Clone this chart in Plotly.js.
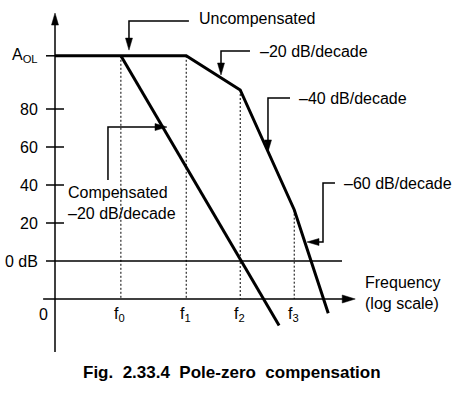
<!DOCTYPE html>
<html>
<head>
<meta charset="utf-8">
<script src="https://cdn.plot.ly/plotly-3.0.1.min.js"></script>
<style>html,body{margin:0;padding:0;background:#fff}#chart{width:471px;height:395px}</style>
</head>
<body>
<div id="chart"></div>
<script>
// ---- data (x: log-frequency units, y: dB) ----
var freqLabels = ['f<sub>0</sub>', 'f<sub>1</sub>', 'f<sub>2</sub>', 'f<sub>3</sub>'];
var freqPos = [1.22, 2.43, 3.43, 4.43];
var dbTicks = [0, 20, 40, 60, 80, 108];
var dbTickLabels = ['0 dB', '20', '40', '60', '80', 'A<sub>OL</sub>'];
var aol = 108;
var uncompX = [0, 2.43, 3.43, 4.43, 5.06];
var uncompY = [108, 108, 90, 27, -27.5];
var compX = [1.22, 4.15];
var compY = [108, -34];
var dashTopY = [108, 108, 90, 27];   // where each dashed marker meets the curve
var freqAxisY = -20;                   // level of the frequency axis line

var FONT = 'Liberation Sans, Arial, sans-serif';
var traces = [];

// dashed verticals at f0..f3
freqPos.forEach(function (fx, i) {
  traces.push({x: [fx, fx], y: [dashTopY[i], freqAxisY], mode: 'lines', hoverinfo: 'skip',
    line: {color: '#000', width: 1, dash: '2px,2px'}});
});
// 0 dB line
traces.push({x: [-0.167, 5.315], y: [0, 0], mode: 'lines', hoverinfo: 'skip', line: {color: '#000', width: 1.5}});
// tick marks
dbTicks.forEach(function (v) {
  if (v === 0) return;
  traces.push({x: [-0.167, 0.167], y: [v, v], mode: 'lines', hoverinfo: 'skip', line: {color: '#000', width: 1.5}});
});
// axes
traces.push({x: [0, 0], y: [-47.9, 126], mode: 'lines', hoverinfo: 'skip', line: {color: '#000', width: 1.5}});
traces.push({x: [-0.22, 5.4], y: [freqAxisY, freqAxisY], mode: 'lines', hoverinfo: 'skip', line: {color: '#000', width: 1.5}});
// curves
traces.push({x: uncompX, y: uncompY, mode: 'lines', name: 'Uncompensated', line: {color: '#000', width: 3}});
traces.push({x: compX, y: compY, mode: 'lines', name: 'Compensated', line: {color: '#000', width: 3}});

var ann = [];
function txt(x, y, t, xa, extra) {
  var a = {x: x, y: y, xref: 'x', yref: 'y', text: t, showarrow: false, xanchor: xa || 'left', yanchor: 'middle',
    font: {family: FONT, size: 16, color: '#000'}, align: 'left'};
  if (extra) for (var k in extra) a[k] = extra[k];
  ann.push(a);
}
dbTicks.forEach(function (v, i) { txt(-0.28, v, dbTickLabels[i], 'right'); });
txt(-0.222, -28.4, '0', 'center');
freqPos.forEach(function (fx, i) { txt(fx - 0.02, -27.9, freqLabels[i], 'center'); });
txt(5.70, -17.1, 'Frequency<br>(log scale)', 'left');
txt(2.63, 127.6, 'Uncompensated', 'left');
txt(3.76, 110.2, '\u201320 dB/decade', 'left');
txt(4.48, 85.5, '\u201340 dB/decade', 'left');
txt(5.315, 40.8, '\u201360 dB/decade', 'left');
txt(0.204, 30.5, 'Compensated<br>\u201320 dB/decade', 'left');
ann.push({xref: 'paper', yref: 'paper', x: 0.4926, y: 0.058, xanchor: 'center', yanchor: 'middle', showarrow: false,
  text: '<b>Fig.\u00a0 2.33.4\u00a0 Pole-zero\u00a0 compensation</b>', font: {family: FONT, size: 17, color: '#000'}});

var shapes = [];
function poly(pts) {
  var d = pts.map(function (p, i) { return (i ? 'L' : 'M') + p[0] + ',' + p[1]; }).join(' ');
  shapes.push({type: 'path', xref: 'x', yref: 'y', path: d, line: {color: '#000', width: 1.5}});
}
function head(x, y, dir) {
  var p = {up: 'M0,0 L-3.5,-12 L3.5,-12 Z', down: 'M0,0 L-3.5,12 L3.5,12 Z',
    left: 'M0,0 L12,-3.5 L12,3.5 Z', right: 'M0,0 L-12,-3.5 L-12,3.5 Z', rightBig: 'M0,0 L-13,-4 L-13,4 Z'}[dir];
  shapes.push({type: 'path', xref: 'x', yref: 'y', xsizemode: 'pixel', ysizemode: 'pixel', xanchor: x, yanchor: y,
    path: p, fillcolor: '#000', line: {color: '#000', width: 0.5}});
}
// callouts
poly([[2.48, 126.3], [1.37, 126.3], [1.37, 113]]); head(1.37, 111, 'down');
poly([[3.611, 110.5], [3.074, 110.5], [3.074, 100]]); head(3.074, 97.9, 'down');
poly([[4.352, 85.8], [3.944, 85.8], [3.944, 59]]); head(3.944, 57.4, 'down');
poly([[5.185, 41.05], [4.963, 41.05], [4.963, 10], [4.75, 10]]); head(4.667, 10, 'left');
poly([[0.981, 42.6], [0.981, 70.5], [1.99, 70.5]]); head(2.074, 70.5, 'right');
// axis arrowheads
head(0, 130.5, 'up');
head(5.56, freqAxisY, 'rightBig');

var layout = {
  width: 471, height: 395, margin: {l: 0, r: 0, t: 0, b: 0},
  paper_bgcolor: '#fff', plot_bgcolor: '#fff', showlegend: false,
  xaxis: {range: [-1.0185, 7.7037], visible: false, fixedrange: true},
  yaxis: {range: [-70.53, 137.37], visible: false, fixedrange: true},
  annotations: ann, shapes: shapes
};
Plotly.newPlot('chart', traces, layout, {staticPlot: true});
</script>
</body>
</html>
